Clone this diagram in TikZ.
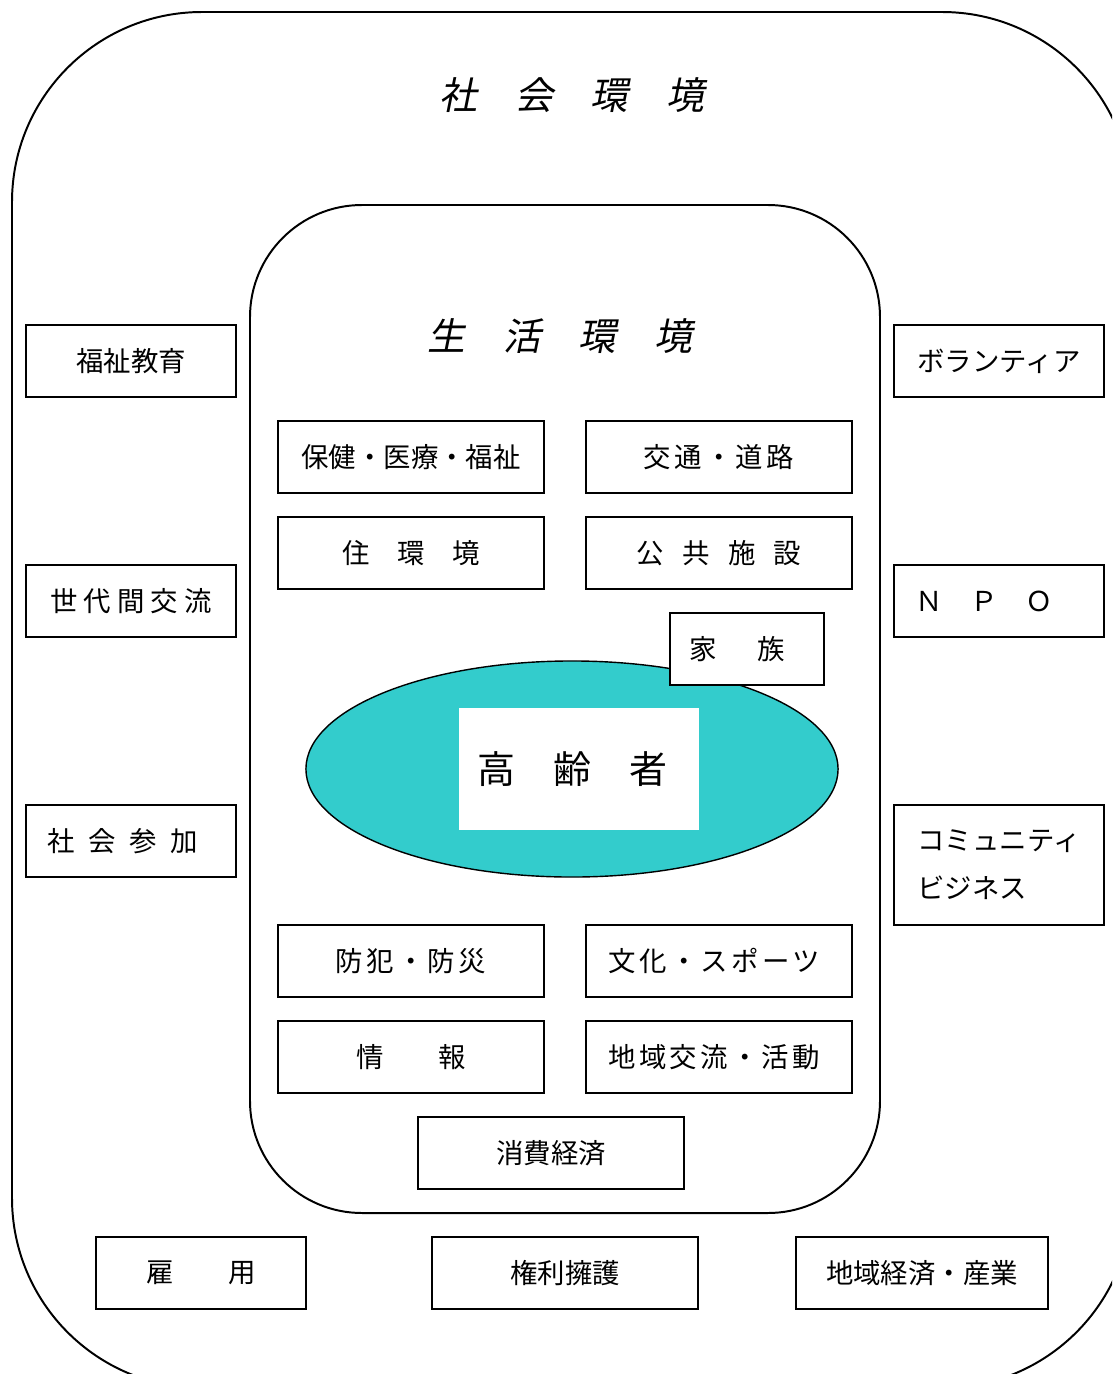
\documentclass[tikz,border=0pt]{standalone}
\usepackage{fontspec}
\setmainfont{Noto Sans CJK JP}
\newfontfamily\slantjp[FakeSlant=0.2]{Noto Sans CJK JP}
\newfontfamily\trackjp[LetterSpace=12]{Noto Sans CJK JP}
\usetikzlibrary{shapes.geometric}
\definecolor{elderteal}{HTML}{33CCCC}
\begin{document}
\begin{tikzpicture}[x=0.025cm,y=-0.025cm,
    box/.style={draw,fill=white,line width=1.4pt,minimum width=5.25cm,minimum height=1.8cm,
      inner sep=0pt,font=\fontsize{19.5}{24}\selectfont},
    midbox/.style={box,minimum width=6.65cm},
    tracked/.style={font=\trackjp\fontsize{19.5}{24}\selectfont},
    frame/.style={line width=1.4pt},
    title/.style={font=\slantjp\fontsize{27}{32}\selectfont}]
  \useasboundingbox (0,0) rectangle (1112,1374);
  \clip (0,0) rectangle (1112,1374);
  \draw[frame,rounded corners=4.75cm] (12,12) rectangle (1132,1388);
  \draw[frame,rounded corners=2.8cm] (250,205) rectangle (880,1213);
  \draw
    (572,95) node[title] (social) {社　会　環　境}
    (560,336) node[title] (living) {生　活　環　境};
  \node[ellipse,draw,line width=1pt,fill=elderteal,minimum width=13.3cm,minimum height=5.4cm]
    (elder) at (572,769) {};
  \node[fill=white,minimum width=6cm,minimum height=3.05cm,font=\fontsize{27}{32}\selectfont]
    (aged) at (579,769) {高　齢　者\kern.35em};
  \draw
    (131,361) node[box] (edu) {福祉教育}
    (131,601) node[box] (gen) {世 代 間 交 流}
    (131,841) node[box] (part) {社\hspace{.5em}会\hspace{.5em}参\hspace{.5em}加\kern.6em}
    (999,361) node[box] (vol) {ボランティア}
    (999,601) node[box] (npo) {Ｎ　Ｐ　Ｏ\kern1.1em}
    (999,865) node[box,minimum height=3cm,align=left,font=\fontsize{19.5}{34}\selectfont] (biz) {コミュニティ\\ビジネス}
    (201,1273) node[box] (job) {雇　　用}
    (565,1273) node[midbox] (rights) {権利擁護}
    (922,1273) node[box,minimum width=6.3cm] (econ) {地域経済・産業};
  \draw
    (411,457) node[midbox] (health) {保健・医療・福祉}
    (719,457) node[midbox,tracked] (road) {交通・道路}
    (411,553) node[midbox] (house) {住　環　境}
    (719,553) node[midbox] (public) {公\hspace{.67em}共\hspace{.67em}施\hspace{.67em}設}
    (747,649) node[box,minimum width=3.85cm] (family) {家\hspace{1.5em}族\kern.7em}
    (411,961) node[midbox,tracked] (safety) {防犯・防災}
    (719,961) node[midbox,tracked] (culture) {文化・スポーツ\kern.35em}
    (411,1057) node[midbox] (info) {情　　報}
    (719,1057) node[midbox,tracked] (local) {地域交流・活動\kern.35em}
    (551,1153) node[midbox] (consume) {消費経済};
\end{tikzpicture}
\end{document}
